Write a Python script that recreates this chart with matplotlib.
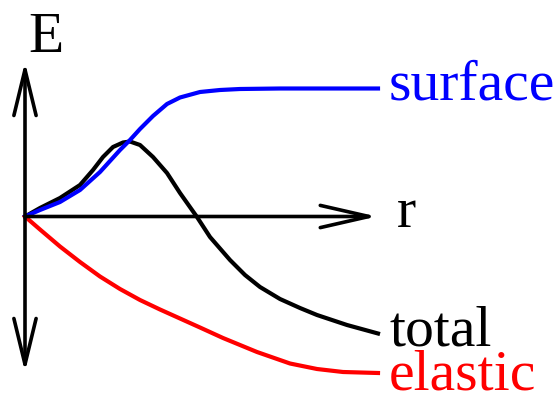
import matplotlib.pyplot as plt

# schematic energy curves (r, E)
surface_r = [0, 0.15, 0.35, 0.55, 0.75, 0.95, 1.05, 1.15, 1.28, 1.42, 1.55, 1.75, 1.95, 2.15, 2.55, 3.53]
surface_E = [0, 0.065, 0.145, 0.265, 0.445, 0.665, 0.765, 0.875, 1.005, 1.125, 1.19, 1.245,
             1.265, 1.275, 1.28, 1.28]

total_r = [0, 0.15, 0.35, 0.55, 0.68, 0.78, 0.88, 0.98, 1.05, 1.15, 1.28, 1.42, 1.55, 1.72, 1.85,
           2.05, 2.2, 2.35, 2.55, 2.75, 2.92, 3.22, 3.53]
total_E = [0, 0.085, 0.185, 0.315, 0.465, 0.595, 0.695, 0.74, 0.75, 0.715, 0.595, 0.435, 0.235,
           -0.005, -0.205, -0.435, -0.585, -0.705, -0.825, -0.915, -0.985, -1.085, -1.17]

elastic_r = [0, 0.15, 0.35, 0.55, 0.75, 0.95, 1.15, 1.35, 1.55, 1.75, 1.98, 2.32, 2.65, 2.92, 3.18, 3.53]
elastic_E = [0, -0.13, -0.30, -0.455, -0.60, -0.725, -0.835, -0.93, -1.02, -1.11, -1.215, -1.355,
             -1.47, -1.525, -1.555, -1.565]

labels = ['surface', 'total', 'elastic']
colors = ['#0000ff', '#000000', '#ff0000']
label_E = [1.165, -1.285, -1.735]

fig = plt.figure(figsize=(5.58, 3.96), dpi=100)
ax = fig.add_axes([0, 0, 1, 1])
ax.set_xlim(-0.25, 5.33)
ax.set_ylim(-1.795, 2.165)
ax.axis('off')

arrow = dict(arrowstyle='<->,head_length=3.3,head_width=0.8', lw=2.6,
             color='black', shrinkA=0, shrinkB=0, mutation_scale=10)
ax.annotate('', xy=(0, 1.545), xytext=(0, -1.555), arrowprops=arrow)
arrow_r = dict(arrow, arrowstyle='->,head_length=3.5,head_width=0.8')
ax.annotate('', xy=(3.52, 0), xytext=(0, 0), arrowprops=arrow_r)

for r, E, c in [(total_r, total_E, colors[1]), (surface_r, surface_E, colors[0]),
                (elastic_r, elastic_E, colors[2])]:
    ax.plot(r, E, color=c, lw=3.0, solid_joinstyle='round')

font = dict(family='Liberation Serif', size=41.5)
for lab, c, y in zip(labels, colors, label_E):
    ax.text(3.64, y, lab, color=c, va='baseline', ha='left', **font)
ax.text(3.72, -0.105, 'r', va='baseline', ha='left', **font)
ax.text(0.03, 1.645, 'E', va='baseline', ha='left', **font)

fig.savefig('out.png', dpi=100)
